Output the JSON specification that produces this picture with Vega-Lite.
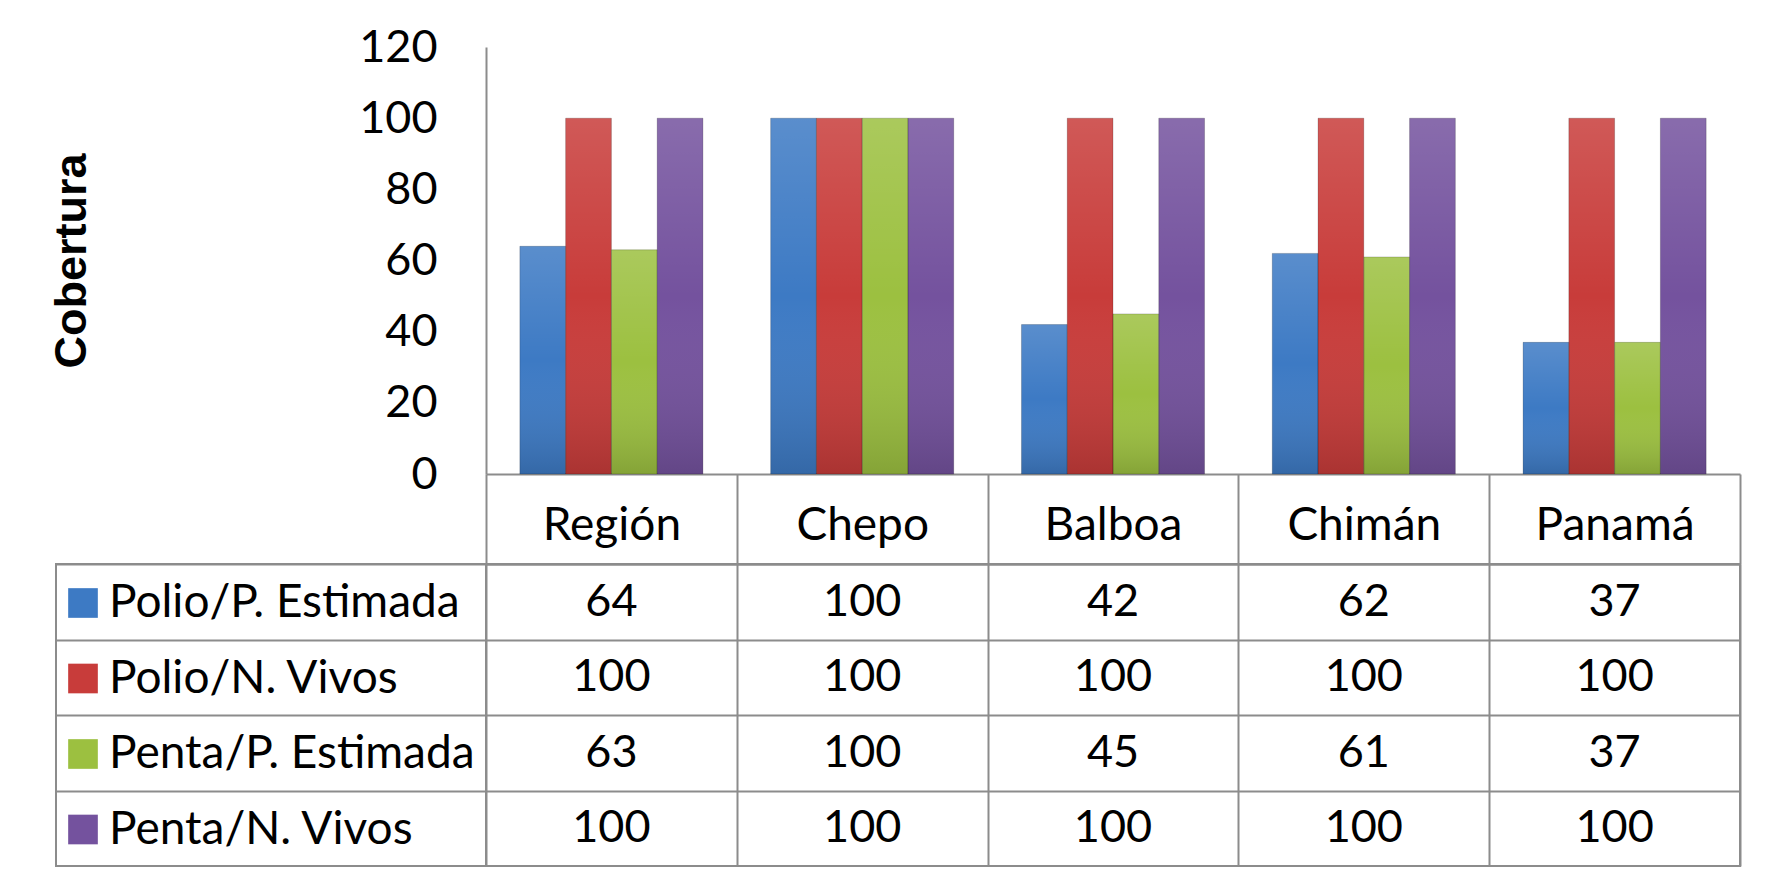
{
  "$schema": "https://vega.github.io/schema/vega-lite/v6.json",
  "background": "white",
  "padding": {"left": 49, "top": 25, "right": 0, "bottom": 0},
  "bounds": "flush",
  "columns": 2,
  "spacing": {"row": 90, "column": 0},
  "config": {
    "view": {"stroke": "#8c8c8c", "strokeWidth": 2},
    "axis": {"domainColor": "#8c8c8c", "domainWidth": 2, "gridColor": "#8c8c8c", "gridWidth": 2, "gridOpacity": 1, "tickColor": "#8c8c8c", "tickWidth": 2, "labelColor": "black", "titleColor": "black"}
  },
  "datasets": {
    "cobertura": [
      {"region": "Región", "serie": "Polio/P. Estimada", "valor": 64},
      {"region": "Región", "serie": "Polio/N. Vivos", "valor": 100},
      {"region": "Región", "serie": "Penta/P. Estimada", "valor": 63},
      {"region": "Región", "serie": "Penta/N. Vivos", "valor": 100},
      {"region": "Chepo", "serie": "Polio/P. Estimada", "valor": 100},
      {"region": "Chepo", "serie": "Polio/N. Vivos", "valor": 100},
      {"region": "Chepo", "serie": "Penta/P. Estimada", "valor": 100},
      {"region": "Chepo", "serie": "Penta/N. Vivos", "valor": 100},
      {"region": "Balboa", "serie": "Polio/P. Estimada", "valor": 42},
      {"region": "Balboa", "serie": "Polio/N. Vivos", "valor": 100},
      {"region": "Balboa", "serie": "Penta/P. Estimada", "valor": 45},
      {"region": "Balboa", "serie": "Penta/N. Vivos", "valor": 100},
      {"region": "Chimán", "serie": "Polio/P. Estimada", "valor": 62},
      {"region": "Chimán", "serie": "Polio/N. Vivos", "valor": 100},
      {"region": "Chimán", "serie": "Penta/P. Estimada", "valor": 61},
      {"region": "Chimán", "serie": "Penta/N. Vivos", "valor": 100},
      {"region": "Panamá", "serie": "Polio/P. Estimada", "valor": 37},
      {"region": "Panamá", "serie": "Polio/N. Vivos", "valor": 100},
      {"region": "Panamá", "serie": "Penta/P. Estimada", "valor": 37},
      {"region": "Panamá", "serie": "Penta/N. Vivos", "valor": 100}
    ]
  },
  "data": {"name": "cobertura"},
  "concat": [
    {
      "width": 430, "height": 427,
      "view": {"stroke": null},
      "mark": {"type": "text", "text": ""},
      "encoding": {}
    },
    {
      "width": 1254, "height": 427,
      "view": {"stroke": null},
      "encoding": {
        "x": {
          "field": "region", "type": "nominal",
          "sort": ["Región", "Chepo", "Balboa", "Chimán", "Panamá"],
          "scale": {"paddingInner": 0.27, "paddingOuter": 0.135},
          "axis": {"title": null, "labels": false, "ticks": false}
        },
        "xOffset": {
          "field": "serie", "type": "nominal",
          "sort": ["Polio/P. Estimada", "Polio/N. Vivos", "Penta/P. Estimada", "Penta/N. Vivos"],
          "scale": {"paddingInner": 0, "paddingOuter": 0}
        },
        "y": {
          "field": "valor", "type": "quantitative",
          "scale": {"domain": [0, 120], "nice": false},
          "axis": {
            "title": "Cobertura", "titleFont": "Liberation Sans", "titleFontWeight": "bold", "titleFontSize": 45, "titlePadding": 264,
            "values": [0, 20, 40, 60, 80, 100, 120],
            "labelFont": "Lato", "labelFontSize": 45, "labelPadding": 49,
            "ticks": false, "grid": false
          }
        }
      },
      "layer": [
        {
          "mark": {"type": "bar"},
          "encoding": {
            "color": {
              "field": "serie", "type": "nominal",
              "sort": ["Polio/P. Estimada", "Polio/N. Vivos", "Penta/P. Estimada", "Penta/N. Vivos"],
              "scale": {"range": ["#3d7ac4", "#c83c3a", "#9cc040", "#74529e"]},
              "legend": {
                "orient": "none", "legendX": 4, "legendY": 533, "direction": "vertical",
                "title": null, "symbolType": "square", "symbolSize": 880, "symbolStrokeWidth": 0,
                "labelFont": "Lato", "labelFontSize": 46, "labelColor": "black",
                "labelLimit": 0, "labelOffset": 3, "rowPadding": 29.5
              }
            }
          }
        },
        {
          "mark": {
            "type": "bar",
            "color": {
              "gradient": "linear", "x1": 0, "y1": 0, "x2": 0, "y2": 1,
              "stops": [
                {"offset": 0, "color": "rgba(255,255,255,0.15)"},
                {"offset": 0.5, "color": "rgba(255,255,255,0)"},
                {"offset": 1, "color": "rgba(0,0,0,0.15)"}
              ]
            },
            "stroke": "rgba(0,0,0,0.18)", "strokeWidth": 1
          }
        }
      ]
    },
    {
      "width": 430, "height": 302,
      "mark": {"type": "text", "text": ""},
      "encoding": {
        "y": {
          "field": "serie", "type": "nominal",
          "sort": ["Polio/P. Estimada", "Polio/N. Vivos", "Penta/P. Estimada", "Penta/N. Vivos"],
          "scale": {"padding": 0},
          "axis": {"title": null, "labels": false, "ticks": false, "domain": false, "grid": true, "tickBand": "extent"}
        }
      }
    },
    {
      "width": 1254, "height": 302,
      "mark": {"type": "text", "font": "Lato", "fontSize": 45, "color": "black", "baseline": "middle"},
      "encoding": {
        "x": {
          "field": "region", "type": "nominal",
          "sort": ["Región", "Chepo", "Balboa", "Chimán", "Panamá"],
          "scale": {"padding": 0},
          "axis": {
            "orient": "top", "title": null, "labelAngle": 0,
            "labelFont": "Lato", "labelFontSize": 46, "labelBaseline": "alphabetic", "labelPadding": -65,
            "tickBand": "extent", "tickSize": 90, "grid": true,
            "minExtent": 90, "maxExtent": 90
          }
        },
        "y": {
          "field": "serie", "type": "nominal",
          "sort": ["Polio/P. Estimada", "Polio/N. Vivos", "Penta/P. Estimada", "Penta/N. Vivos"],
          "scale": {"padding": 0},
          "axis": {"title": null, "labels": false, "ticks": false, "domain": false, "grid": true, "tickBand": "extent"}
        },
        "text": {"field": "valor", "type": "quantitative"}
      }
    }
  ]
}
